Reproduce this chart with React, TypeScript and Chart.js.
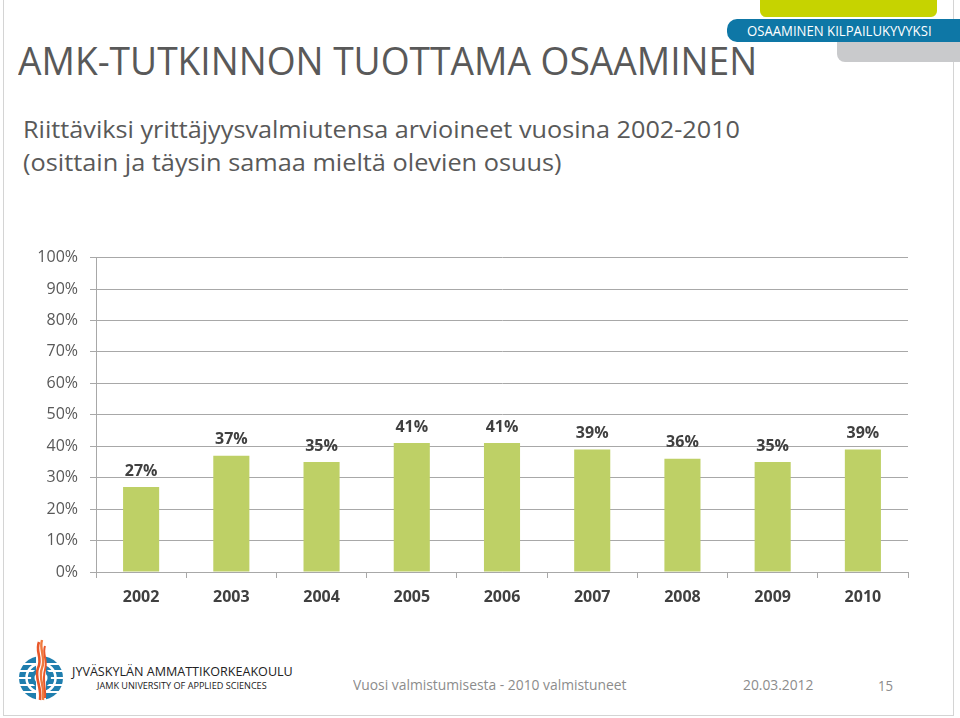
import React, { useEffect, useLayoutEffect, useRef } from "react";
import { Chart, registerables } from "chart.js";

Chart.register(...registerables);

const categories = ["2002", "2003", "2004", "2005", "2006", "2007", "2008", "2009", "2010"];
const shareValues = [27, 37, 35, 41, 41, 39, 36, 35, 39];
const yTickValues = [0, 10, 20, 30, 40, 50, 60, 70, 80, 90, 100];

const titleText = "AMK-TUTKINNON TUOTTAMA OSAAMINEN";
const subtitleLine1 = "Riittäviksi yrittäjyysvalmiutensa arvioineet vuosina 2002-2010";
const subtitleLine2 = "(osittain ja täysin samaa mieltä olevien osuus)";
const bannerText = "OSAAMINEN KILPAILUKYVYKSI";
const footerText = "Vuosi valmistumisesta - 2010 valmistuneet";
const footerDate = "20.03.2012";
const footerPage = "15";
const logoLine1 = "JYVÄSKYLÄN AMMATTIKORKEAKOULU";
const logoLine2 = "JAMK UNIVERSITY OF APPLIED SCIENCES";

const FONT = '"Open Sans", "Noto Sans", sans-serif';
const GRID = "#A8A8A8";
const BAR = "#BED066";

type FitProps = {
  text: string;
  x: number;
  baseline: number;
  size: number;
  width: number;
  color: string;
  weight?: number;
};

function Fit({ text, x, baseline, size, width, color, weight = 400 }: FitProps) {
  const ref = useRef<HTMLSpanElement>(null);
  useLayoutEffect(() => {
    const fit = () => {
      const el = ref.current;
      if (!el) return;
      el.style.transform = "none";
      const w = el.offsetWidth;
      if (w > 0) el.style.transform = `scaleX(${width / w})`;
    };
    fit();
    if ((document as any).fonts && (document as any).fonts.ready) {
      (document as any).fonts.ready.then(fit);
    }
  }, [text, width, size]);
  return (
    <span
      ref={ref}
      style={{
        position: "absolute",
        left: x,
        top: baseline - 0.8874 * size,
        fontFamily: FONT,
        fontSize: size,
        lineHeight: `${size}px`,
        fontWeight: weight,
        color,
        whiteSpace: "nowrap",
        transformOrigin: "0 0",
        display: "inline-block",
      }}
    >
      {text}
    </span>
  );
}

const barLabelPlugin = {
  id: "barLabels",
  afterDatasetsDraw(chart: any) {
    const ctx = chart.ctx;
    const meta = chart.getDatasetMeta(0);
    ctx.save();
    ctx.font = `bold 16px ${FONT}`;
    ctx.fillStyle = "#404040";
    ctx.textAlign = "center";
    ctx.textBaseline = "middle";
    meta.data.forEach((bar: any, i: number) => {
      ctx.fillText(`${shareValues[i]}%`, bar.x, bar.y - 16);
    });
    ctx.restore();
  },
};

function BarChart() {
  const canvasRef = useRef<HTMLCanvasElement>(null);
  useEffect(() => {
    if (!canvasRef.current) return;
    const chart = new Chart(canvasRef.current, {
      type: "bar",
      data: {
        labels: categories,
        datasets: [
          {
            data: shareValues,
            backgroundColor: BAR,
            borderWidth: 0,
            barPercentage: 0.4,
            categoryPercentage: 1,
          },
        ],
      },
      options: {
        responsive: false,
        animation: false,
        devicePixelRatio: 1,
        layout: { padding: { top: 12, right: 52, left: 0, bottom: 0 } },
        plugins: {
          legend: { display: false },
          tooltip: { enabled: false },
          title: { display: false },
        },
        scales: {
          x: {
            offset: true,
            afterFit: (s: any) => {
              s.height = 48;
            },
            grid: {
              display: true,
              drawOnChartArea: false,
              drawTicks: true,
              tickLength: 6,
              offset: true,
              color: GRID,
              lineWidth: 1,
            },
            border: { display: true, color: GRID, width: 1 },
            ticks: {
              color: "#404040",
              font: { family: FONT, size: 16, weight: "bold" },
              padding: 10,
              maxRotation: 0,
            },
          },
          y: {
            min: 0,
            max: 100,
            afterFit: (s: any) => {
              s.width = 96;
            },
            afterBuildTicks: (s: any) => {
              s.ticks = yTickValues.map((v) => ({ value: v }));
            },
            grid: {
              color: GRID,
              lineWidth: 1,
              tickLength: 6,
              drawTicks: true,
            },
            border: { display: true, color: GRID, width: 1 },
            ticks: {
              color: "#595959",
              font: { family: FONT, size: 16 },
              padding: 12,
              callback: (v: any) => `${v}%`,
            },
          },
        },
      },
      plugins: [barLabelPlugin],
    } as any);
    return () => chart.destroy();
  }, []);
  return (
    <canvas
      ref={canvasRef}
      width={960}
      height={384}
      style={{ position: "absolute", left: 0, top: 236, width: 960, height: 384, display: "block" }}
    />
  );
}

function Emblem() {
  return (
    <svg
      width={60}
      height={72}
      viewBox="0 0 60 72"
      style={{ position: "absolute", left: 11, top: 636 }}
    >
      <circle cx={30} cy={42} r={22} fill="#1F7EAE" />
      {[-14, -7, 0, 7, 14].map((d) => (
        <rect key={d} x={7} y={42 + d - 1} width={46} height={2} fill="#fff" />
      ))}
      <circle cx={30} cy={42} r={14.5} fill="none" stroke="#fff" strokeWidth={2.5} />
      <circle cx={30} cy={42} r={10} fill="#1F7EAE" />
      <circle cx={30} cy={42} r={6.5} fill="#fff" />
      <rect x={25} y={20} width={10} height={44} fill="#fff" />
      <path d="M28 6 C24 16, 32 22, 27 32 C23 42, 31 50, 29 64" stroke="#E8572A" strokeWidth={2.6} fill="none" />
      <path d="M31 4 C28 14, 35 22, 31 32 C27 42, 34 50, 32 64" stroke="#F07A3E" strokeWidth={2.4} fill="none" />
      <path d="M34 10 C31 18, 37 24, 34 34 C31 44, 35 52, 34 62" stroke="#E8572A" strokeWidth={2} fill="none" />
    </svg>
  );
}

export default function App() {
  return (
    <div
      style={{
        position: "fixed",
        left: 0,
        top: 0,
        width: 960,
        height: 718,
        background: "#fff",
        overflow: "hidden",
      }}
    >
      {/* slide frame */}
      <div
        style={{
          position: "absolute",
          left: 3,
          top: -2,
          width: 951,
          height: 718,
          border: "1px solid #D4D4D4",
          boxSizing: "border-box",
        }}
      />
      {/* banner shapes */}
      <div style={{ position: "absolute", left: 760, top: -8, width: 177, height: 25, borderRadius: 6, background: "#C6D300" }} />
      <div style={{ position: "absolute", left: 837, top: 34, width: 140, height: 28, borderRadius: 8, background: "#C9CACC" }} />
      <div style={{ position: "absolute", left: 727, top: 19, width: 250, height: 23, borderRadius: 10, background: "#0E77A6" }} />
      <Fit text={bannerText} x={747} baseline={36.5} size={14.5} width={185} color="#FFFFFF" />

      <Fit text={titleText} x={18} baseline={75} size={38} width={739} color="#595959" />
      <Fit text={subtitleLine1} x={23} baseline={138.3} size={23.4} width={717} color="#595959" />
      <Fit text={subtitleLine2} x={23} baseline={171.5} size={23.4} width={539} color="#595959" />

      <BarChart />

      <Emblem />
      <Fit text={logoLine1} x={72} baseline={677} size={12} width={221} color="#222222" />
      <Fit text={logoLine2} x={97} baseline={688.5} size={9} width={170} color="#222222" />

      <Fit text={footerText} x={353} baseline={690} size={14} width={274} color="#8C8C8C" />
      <Fit text={footerDate} x={743} baseline={690} size={14} width={70} color="#8C8C8C" />
      <Fit text={footerPage} x={878} baseline={691} size={14} width={15} color="#8C8C8C" />
    </div>
  );
}
